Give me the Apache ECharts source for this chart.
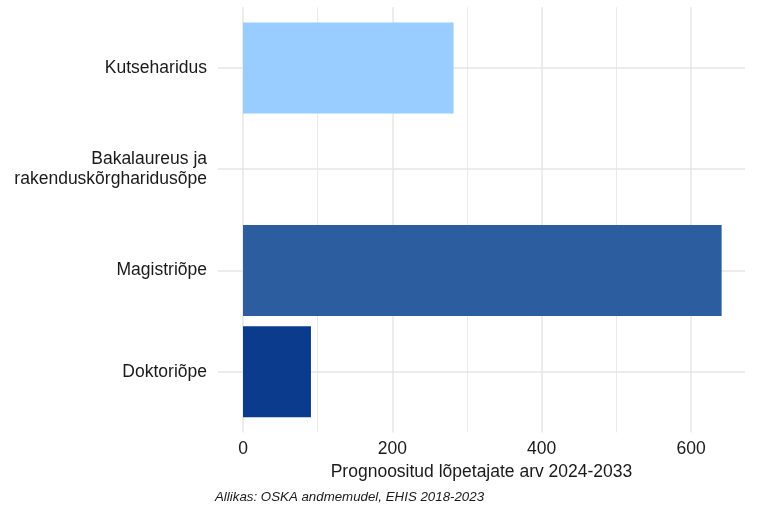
<!DOCTYPE html>
<html>
<head>
<meta charset="utf-8">
<script src="https://cdn.jsdelivr.net/npm/echarts@6/dist/echarts.min.js"></script>
<style>
  html, body { margin: 0; padding: 0; background: #fff; }
  #chart { width: 768px; height: 512px; }
</style>
</head>
<body>
<div id="chart"></div>
<script>
// andmed
const categories = ['Kutseharidus', 'Bakalaureus ja\nrakenduskõrgharidusõpe', 'Magistriõpe', 'Doktoriõpe'];
const values = [282, 0, 641, 91];
const barColors = ['#99ccff', '#99ccff', '#2c5d9f', '#0b3b8d'];
const xTicks = [0, 200, 400, 600];
const xMinorTicks = [100, 300, 500];
const xTitle = 'Prognoositud lõpetajate arv 2024-2033';
const caption = 'Allikas: OSKA andmemudel, EHIS 2018-2023';

const xMin = -33.5, xMax = 672.3;
const textColor = '#1a1a1a';
const gridColor = '#e6e6e6';
const font = "'Liberation Sans', Arial, sans-serif";

const chart = echarts.init(document.getElementById('chart'), null, { renderer: 'canvas' });

// ruudustiku jooned (ggplot stiilis, laiendatud ala)
const gridLines = [];
xTicks.forEach(v => gridLines.push({ xAxis: v, lineStyle: { width: 1.5 } }));
xMinorTicks.forEach(v => gridLines.push({ xAxis: v, lineStyle: { width: 0.9 } }));
categories.forEach((c, i) => gridLines.push({ yAxis: i, lineStyle: { width: 1.5 } }));

const option = {
  backgroundColor: '#ffffff',
  animation: false,
  textStyle: { fontFamily: font },
  grid: [
    { left: 218, right: 23, top: 17.4, bottom: 89.7 },
    { left: 218, right: 23, top: 7.3, bottom: 79.6 }
  ],
  xAxis: [{
    gridIndex: 0,
    type: 'value',
    min: xMin,
    max: xMax,
    show: false
  }, {
    gridIndex: 1,
    type: 'value',
    min: xMin,
    max: xMax,
    name: xTitle,
    nameLocation: 'middle',
    nameGap: 31,
    nameTextStyle: { fontSize: 17.5, color: textColor, fontFamily: font },
    axisLine: { show: false },
    axisTick: { show: false },
    splitLine: { show: false },
    axisLabel: {
      customValues: xTicks,
      fontSize: 17.5,
      color: textColor,
      margin: 8,
      fontFamily: font
    }
  }],
  yAxis: [{
    gridIndex: 0,
    type: 'category',
    data: categories,
    inverse: true,
    axisLine: { show: false },
    axisTick: { show: false },
    splitLine: { show: false },
    axisLabel: {
      fontSize: 17.5,
      color: textColor,
      margin: 11,
      lineHeight: 20,
      align: 'right',
      fontFamily: font
    }
  }, {
    gridIndex: 1,
    type: 'value',
    min: -0.6,
    max: 3.6,
    inverse: true,
    show: false
  }],
  series: [{
    type: 'line',
    xAxisIndex: 1,
    yAxisIndex: 1,
    data: [],
    silent: true,
    z: 0,
    markLine: {
      silent: true,
      z: 0,
      symbol: 'none',
      label: { show: false },
      lineStyle: { color: gridColor, type: 'solid' },
      emphasis: { disabled: true },
      data: gridLines
    }
  }, {
    type: 'bar',
    xAxisIndex: 0,
    yAxisIndex: 0,
    z: 3,
    barCategoryGap: '10%',
    data: values.map((v, i) => ({ value: v, itemStyle: { color: barColors[i] } }))
  }],
  graphic: [{
    type: 'text',
    left: 215,
    top: 491,
    style: {
      text: caption,
      font: "italic 13.3px 'Liberation Sans', Arial, sans-serif",
      fill: textColor
    }
  }]
};

chart.setOption(option);
</script>
</body>
</html>
